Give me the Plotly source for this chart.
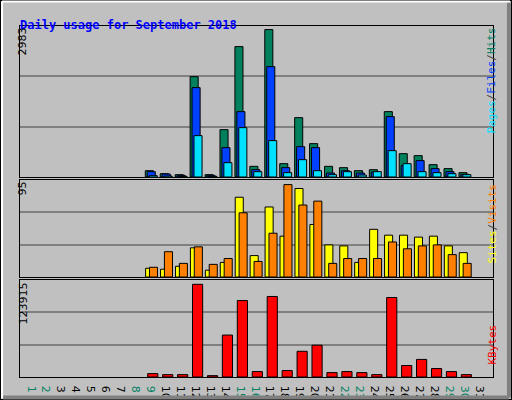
import plotly.graph_objects as go

# -- data (days 9..30, day 31 empty)
days = list(range(9, 31))
hits = [128, 67, 47, 2031, 47, 958, 2639, 216, 2983, 270, 1201, 675, 216, 189, 128, 148, 1323, 472, 432, 250, 169, 88]
files = [108, 61, 34, 1809, 34, 594, 1323, 148, 2234, 189, 614, 594, 81, 128, 81, 101, 1222, 229, 331, 169, 108, 54]
pages = [27, 20, 13, 837, 13, 290, 999, 108, 736, 88, 351, 128, 47, 108, 40, 108, 533, 270, 108, 88, 67, 47]
sites = [9, 8, 11, 30, 7, 15, 82, 22, 72, 42, 91, 54, 33, 32, 15, 49, 43, 43, 41, 42, 32, 25]
visits = [10, 26, 14, 31, 13, 19, 66, 16, 45, 95, 74, 78, 14, 19, 19, 19, 36, 29, 32, 33, 23, 14]
kbytes = [4522, 3166, 3166, 123915, 1809, 56078, 102207, 7236, 107634, 8593, 34370, 42511,
          5879, 7236, 5879, 3166, 106277, 15376, 23517, 11306, 7236, 3166]
day_labels = [str(d) for d in range(1, 32)]
weekend = [1, 2, 8, 9, 15, 16, 22, 23, 29, 30]

BG = '#C0C0C0'
line = dict(color='black', width=1)

fig = go.Figure()

def bars(y, color, xaxis, yaxis, width, offset):
    fig.add_trace(go.Bar(x=days, y=y, marker=dict(color=color, line=line),
                         width=width, offset=offset, xaxis=xaxis, yaxis=yaxis))

bars(hits, '#00805C', 'x', 'y', 0.54, -0.48)
bars(files, '#0040FF', 'x', 'y', 0.54, -0.35)
bars(pages, '#00E0FF', 'x', 'y', 0.54, -0.22)
bars(sites, '#FFFF00', 'x2', 'y2', 0.54, -0.46)
bars(visits, '#FF8000', 'x2', 'y2', 0.54, -0.20)
bars(kbytes, '#FF0000', 'x3', 'y3', 0.68, -0.32)

xr = [0.13, 31.8]
xdom = [20 / 512, 493 / 512]
tick_txt = [f"<span style='color:#008060'>{d}</span>" if int(d) in weekend else d for d in day_labels]

def yax(dom, top):
    return dict(domain=dom, range=[0, top], tickvals=[top / 3, 2 * top / 3], showticklabels=False,
                ticks='', gridcolor='#808080', gridwidth=1.5, showline=True, linecolor='black',
                mirror=True, zeroline=False, fixedrange=True)

def xax(anchor, show):
    return dict(domain=xdom, range=xr, anchor=anchor, showgrid=False, showline=True, linecolor='black',
                mirror=True, ticks='', showticklabels=show, tickvals=list(range(1, 32)),
                ticktext=tick_txt, tickfont=dict(family='DejaVu Sans', size=11, color='black'))

top_r = 2983 * 151 / 147.4
mid_r = 95 * 97 / 92.4
bot_r = 123915 * 97 / 92.7

fig.update_layout(
    width=512, height=400, paper_bgcolor=BG, plot_bgcolor=BG, showlegend=False,
    barmode='overlay', margin=dict(l=0, r=0, t=0, b=0),
    xaxis=xax('y', False), xaxis2=xax('y2', False), xaxis3=xax('y3', True),
    yaxis=yax([0.5575, 0.935], top_r),
    yaxis2=yax([0.3075, 0.55], mid_r),
    yaxis3=yax([0.0575, 0.30], bot_r),
)

mono = 'DejaVu Sans Mono'
ann = [
    dict(x=18 / 512, y=1 - 16 / 400, text='<b>Daily usage for September 2018</b>', xanchor='left',
         font=dict(family=mono, size=12, color='#0000FF')),
    dict(x=14 / 512, y=1 - 26 / 400, text='2983', textangle=-90, yanchor='top', font=dict(family='DejaVu Sans', size=11, color='black')),
    dict(x=14 / 512, y=1 - 180 / 400, text='95', textangle=-90, yanchor='top', font=dict(family='DejaVu Sans', size=11, color='black')),
    dict(x=14 / 512, y=1 - 281 / 400, text='123915', textangle=-90, yanchor='top', font=dict(family='DejaVu Sans', size=11, color='black')),
    dict(x=500 / 512, y=1 - 26 / 400, textangle=-90, yanchor='top', font=dict(family=mono, size=11, color='#404040'),
         text="<span style='color:#00E0FF'>Pages</span>/<span style='color:#0040FF'>Files</span>/<span style='color:#008060'>Hits</span>"),
    dict(x=500 / 512, y=1 - 182 / 400, textangle=-90, yanchor='top', font=dict(family=mono, size=11, color='#404040'),
         text="<span style='color:#FFFF00'>Sites</span>/<span style='color:#FF8000'>Visits</span>"),
    dict(x=500 / 512, y=1 - 323 / 400, textangle=-90, yanchor='top', font=dict(family=mono, size=11, color='#FF0000'),
         text='KBytes'),
]
for a in ann:
    a.update(xref='paper', yref='paper', showarrow=False)
fig.update_layout(annotations=ann)

# bevelled outer frame
fig.add_shape(type='rect', xref='paper', yref='paper', x0=0, y0=0, x1=1, y1=1, line=dict(color='black', width=2))
fig.add_shape(type='line', xref='paper', yref='paper', x0=0.006, y0=0.006, x1=0.994, y1=0.006, line=dict(color='#808080', width=4))
fig.add_shape(type='line', xref='paper', yref='paper', x0=0.994, y0=0.006, x1=0.994, y1=0.994, line=dict(color='#808080', width=4))
fig.add_shape(type='line', xref='paper', yref='paper', x0=0.004, y0=0.996, x1=0.996, y1=0.996, line=dict(color='white', width=2))
fig.add_shape(type='line', xref='paper', yref='paper', x0=0.004, y0=0.004, x1=0.004, y1=0.996, line=dict(color='white', width=2))

# drop the browser's default page margin so the 512x400 figure fills the window
fig.write_html("out.html", config={'displayModeBar': False},
               post_script="document.body.style.margin='0';document.body.style.overflow='hidden';")
